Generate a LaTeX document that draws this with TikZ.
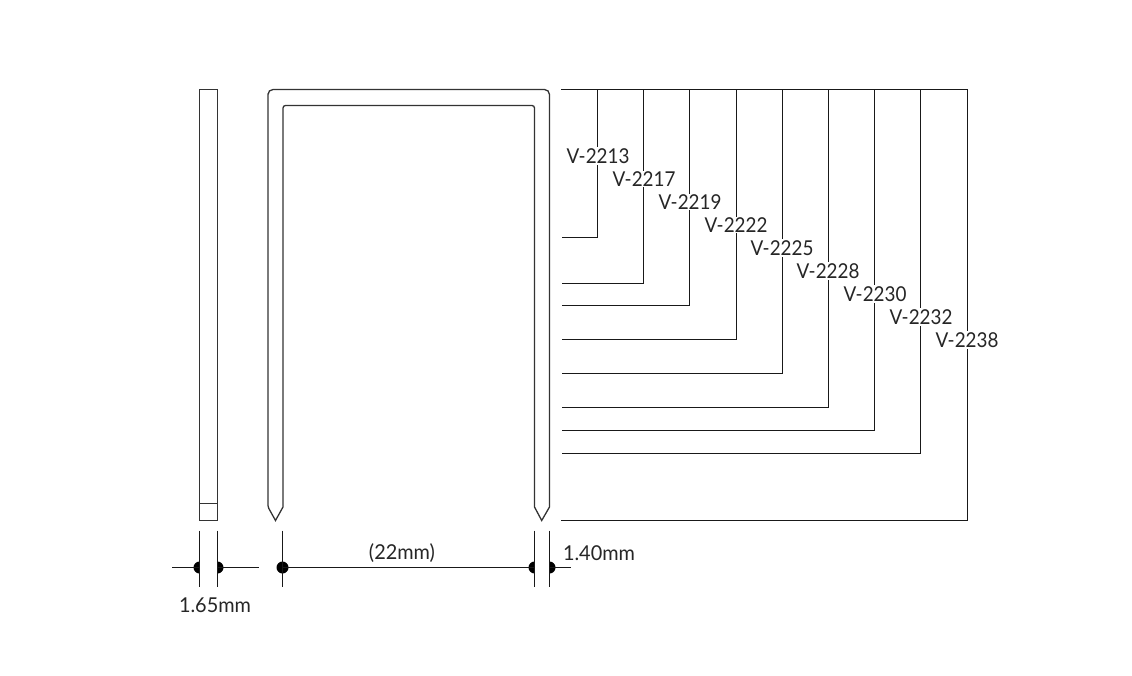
\documentclass[tikz,border=0pt]{standalone}
\usepackage{fontspec}
\setmainfont{Lato}
\newfontfamily\partfont[FakeStretch=0.92]{Lato}
\newfontfamily\sizefont[FakeStretch=0.97]{Lato}
\tikzset{
  outline/.style={draw=black!80, line width=1.3pt},
  leader/.style={draw=black!90, line width=1.25pt},
  partlabel/.style={fill=white, inner sep=1pt, font=\partfont\fontsize{20.5}{22}\selectfont, text=black!85},
  sizelabel/.style={inner sep=0pt, font=\sizefont\fontsize{20.5}{22}\selectfont, text=black!85},
  halfdot/.style={fill=black, draw=none}
}
\begin{document}
\begin{tikzpicture}[x = 1pt, y = -1pt]
          \useasboundingbox (0,0) rectangle (1132,676);
          \draw[outline] (199.5,89.5) rectangle (217.5,520.5);
          \draw[outline] (199.5,503.5) -- (217.5,503.5);
          \draw[outline, rounded corners=1.5pt] (275.5,520.5) -- (268,507) -- (268,95) [rounded corners=5pt] -- (268,89.5) -- (549.5,89.5) -- (549.5,105) [rounded corners=0pt] -- (549.5,507) -- (541.7,520.5) -- (534.5,507) [rounded corners=2.5pt] -- (534.5,105.5) -- (283,105.5) [rounded corners=0pt] -- (283,507) -- cycle;
          \coordinate (topstart) at (561,89.5);
          \coordinate (top2213) at (597.5,89.5);
          \coordinate (top2217) at (643.5,89.5);
          \coordinate (top2219) at (689.5,89.5);
          \coordinate (top2222) at (736.5,89.5);
          \coordinate (top2225) at (782.5,89.5);
          \coordinate (top2228) at (828.5,89.5);
          \coordinate (top2230) at (874.5,89.5);
          \coordinate (top2232) at (920.5,89.5);
          \coordinate (top2238) at (967.5,89.5);
          \coordinate (foot2213) at (597.5,237.5);
          \coordinate (foot2217) at (643.5,283.5);
          \coordinate (foot2219) at (689.5,305.5);
          \coordinate (foot2222) at (736.5,339.5);
          \coordinate (foot2225) at (782.5,373.5);
          \coordinate (foot2228) at (828.5,407.5);
          \coordinate (foot2230) at (874.5,430.5);
          \coordinate (foot2232) at (920.5,453.5);
          \coordinate (foot2238) at (967.5,520.5);
          \coordinate (end2213) at (562,237.5);
          \coordinate (end2217) at (562,283.5);
          \coordinate (end2219) at (562,305.5);
          \coordinate (end2222) at (562,339.5);
          \coordinate (end2225) at (562,373.5);
          \coordinate (end2228) at (562,407.5);
          \coordinate (end2230) at (562,430.5);
          \coordinate (end2232) at (562,453.5);
          \coordinate (end2238) at (561,520.5);
          \draw[leader] (topstart) -- (top2238);
          \draw[leader] (top2213) -- (foot2213) -- (end2213);
          \draw[leader] (top2217) -- (foot2217) -- (end2217);
          \draw[leader] (top2219) -- (foot2219) -- (end2219);
          \draw[leader] (top2222) -- (foot2222) -- (end2222);
          \draw[leader] (top2225) -- (foot2225) -- (end2225);
          \draw[leader] (top2228) -- (foot2228) -- (end2228);
          \draw[leader] (top2230) -- (foot2230) -- (end2230);
          \draw[leader] (top2232) -- (foot2232) -- (end2232);
          \draw[leader] (top2238) -- (foot2238) -- (end2238);
          \node[partlabel] (v2213) at (598,156) {V-2213};
          \node[partlabel] (v2217) at (644,179) {V-2217};
          \node[partlabel] (v2219) at (690,202) {V-2219};
          \node[partlabel] (v2222) at (736,225) {V-2222};
          \node[partlabel] (v2225) at (782,248) {V-2225};
          \node[partlabel] (v2228) at (828,271) {V-2228};
          \node[partlabel] (v2230) at (875,294) {V-2230};
          \node[partlabel] (v2232) at (921,317) {V-2232};
          \node[partlabel] (v2238) at (967,340) {V-2238};
          \coordinate (widthfreeleft) at (172,567.5);
          \coordinate (widthleft) at (199.5,567.5);
          \coordinate (widthright) at (217.5,567.5);
          \coordinate (widthfreeright) at (259,567.5);
          \coordinate (spanleft) at (282.5,567.5);
          \coordinate (spanright) at (534.5,567.5);
          \coordinate (thickright) at (549.5,567.5);
          \coordinate (thickfree) at (571,567.5);
          \fill[halfdot] (199.5,561.5) arc[start angle=90, end angle=270, radius=6pt] -- cycle;
          \fill[halfdot] (217.5,561.5) arc[start angle=90, end angle=-90, radius=6pt] -- cycle;
          \fill[halfdot] (282.5,567.5) circle[radius=6pt];
          \fill[halfdot] (534.5,561.5) arc[start angle=90, end angle=270, radius=6pt] -- cycle;
          \fill[halfdot] (549.5,561.5) arc[start angle=90, end angle=-90, radius=6pt] -- cycle;
          \draw[leader] (widthfreeleft) -- (widthleft);
          \draw[leader] (widthright) -- (widthfreeright);
          \draw[leader] (spanleft) -- (spanright);
          \draw[leader] (thickright) -- (thickfree);
          \draw[leader] (199.5,530.5) -- (199.5,586.5);
          \draw[leader] (217.5,530.5) -- (217.5,586.5);
          \draw[leader] (282.5,530.5) -- (282.5,586.5);
          \draw[leader] (534.5,530.5) -- (534.5,586.5);
          \draw[leader] (549.5,530.5) -- (549.5,586.5);
          \node[sizelabel] (span) at (402,553) {(22mm)};
          \node[sizelabel] (thick) at (599,553) {1.40mm};
          \node[sizelabel] (width) at (215,605) {1.65mm};
        \end{tikzpicture}
\end{document}
